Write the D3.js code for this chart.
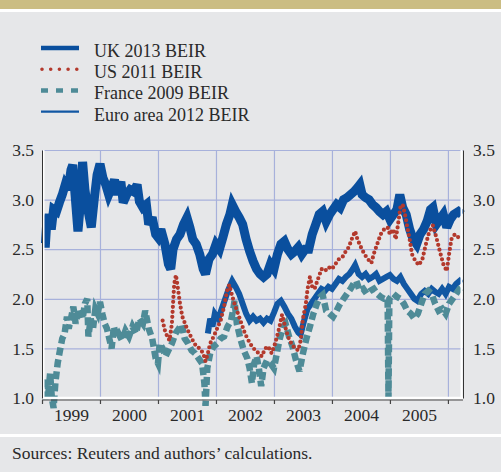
<!DOCTYPE html>
<html>
<head>
<meta charset="utf-8">
<script src="https://cdn.jsdelivr.net/npm/d3@7"></script>
<style>
  html, body { margin: 0; padding: 0; background: #e6e7e9; }
  svg { display: block; }
  text { font-family: "Liberation Serif", "Times New Roman", serif; fill: #2a2a2a; }
</style>
</head>
<body>
<svg id="chart" width="501" height="472"></svg>
<script>
// ---------------- DATA ----------------
const seriesNames = ["UK 2013 BEIR", "US 2011 BEIR", "France 2009 BEIR", "Euro area 2012 BEIR"];
const yTickValues = [1.0, 1.5, 2.0, 2.5, 3.0, 3.5];
const yearBoundaries = [1999, 2000, 2001, 2002, 2003, 2004, 2005, 2006];
const yearLabels = ["1999", "2000", "2001", "2002", "2003", "2004", "2005"];
const sourceText = "Sources: Reuters and authors\u2019 calculations.";

const ukValues = [
[1999.00,2.56],[1999.06,2.56],[1999.08,2.75],[1999.12,2.85],[1999.16,2.70],[1999.20,2.90],[1999.25,2.88],
[1999.30,2.97],[1999.35,3.05],[1999.40,3.15],[1999.45,3.10],[1999.50,3.30],[1999.53,3.35],[1999.57,3.05],
[1999.62,2.68],[1999.66,2.95],[1999.70,3.38],[1999.74,3.10],[1999.79,2.90],[1999.85,2.72],[1999.90,3.00],
[1999.95,3.25],[2000.00,3.36],[2000.05,3.22],[2000.10,3.15],[2000.15,3.05],[2000.20,3.12],[2000.25,3.20],
[2000.30,3.05],[2000.36,3.18],[2000.40,2.97],[2000.46,3.05],[2000.52,3.10],[2000.58,3.08],[2000.64,3.15],
[2000.68,2.98],[2000.74,2.92],[2000.80,2.95],[2000.84,2.75],[2000.90,2.82],[2000.96,2.65],[2001.00,2.62],
[2001.05,2.70],[2001.12,2.55],[2001.18,2.35],[2001.22,2.30],[2001.26,2.50],[2001.32,2.60],[2001.38,2.65],
[2001.44,2.75],[2001.50,2.82],[2001.55,2.72],[2001.60,2.60],[2001.66,2.55],[2001.72,2.45],[2001.78,2.30],
[2001.82,2.25],[2001.88,2.40],[2001.94,2.45],[2002.00,2.55],[2002.06,2.50],[2002.12,2.62],[2002.18,2.75],
[2002.24,2.85],[2002.28,2.95],[2002.34,2.88],[2002.40,2.82],[2002.46,2.75],[2002.52,2.60],[2002.58,2.48],
[2002.64,2.38],[2002.70,2.30],[2002.76,2.25],[2002.82,2.22],[2002.88,2.25],[2002.94,2.35],[2003.00,2.30],
[2003.06,2.45],[2003.12,2.55],[2003.18,2.58],[2003.24,2.50],[2003.30,2.45],[2003.36,2.48],[2003.42,2.52],
[2003.48,2.45],[2003.54,2.50],[2003.60,2.50],[2003.66,2.65],[2003.72,2.75],[2003.78,2.85],[2003.84,2.88],
[2003.90,2.78],[2003.96,2.85],[2004.02,2.90],[2004.08,2.95],[2004.14,2.92],[2004.20,3.00],[2004.26,3.02],
[2004.32,3.05],[2004.38,3.08],[2004.44,3.12],[2004.48,3.15],[2004.52,3.05],[2004.58,3.02],[2004.64,3.00],
[2004.70,2.95],[2004.76,2.92],[2004.82,2.88],[2004.88,2.85],[2004.94,2.88],[2005.00,2.80],[2005.06,2.85],
[2005.12,2.90],[2005.17,3.05],[2005.22,2.92],[2005.28,2.85],[2005.34,2.70],[2005.40,2.60],[2005.46,2.55],
[2005.52,2.65],[2005.58,2.70],[2005.64,2.78],[2005.70,2.90],[2005.74,2.92],[2005.80,2.75],[2005.86,2.80],
[2005.92,2.85],[2005.98,2.72],[2006.04,2.80],[2006.10,2.85],[2006.18,2.88],[2006.24,2.85]
];

const usValues = [
[2001.08,1.78],[2001.12,1.68],[2001.16,1.62],[2001.20,1.58],[2001.24,1.75],[2001.26,1.95],[2001.28,2.15],
[2001.31,2.24],[2001.34,2.12],[2001.38,1.95],[2001.42,1.82],[2001.46,1.76],[2001.50,1.70],[2001.55,1.64],
[2001.60,1.58],[2001.66,1.52],[2001.72,1.50],[2001.78,1.45],[2001.82,1.37],[2001.86,1.45],[2001.90,1.55],
[2001.96,1.62],[2002.02,1.70],[2002.08,1.78],[2002.14,1.92],[2002.19,2.08],[2002.23,2.14],[2002.27,2.05],
[2002.32,1.95],[2002.38,1.85],[2002.44,1.75],[2002.50,1.65],[2002.56,1.58],[2002.62,1.52],[2002.68,1.48],
[2002.74,1.45],[2002.79,1.42],[2002.85,1.50],[2002.90,1.52],[2002.96,1.45],[2003.02,1.55],[2003.08,1.68],
[2003.14,1.84],[2003.18,1.75],[2003.24,1.62],[2003.30,1.55],[2003.36,1.50],[2003.42,1.48],[2003.46,1.58],
[2003.50,1.80],[2003.55,1.95],[2003.58,2.10],[2003.62,2.22],[2003.66,2.12],[2003.70,2.10],[2003.76,2.20],
[2003.82,2.30],[2003.88,2.28],[2003.94,2.32],[2004.00,2.30],[2004.06,2.35],[2004.12,2.40],[2004.18,2.42],
[2004.24,2.48],[2004.29,2.52],[2004.34,2.60],[2004.40,2.68],[2004.44,2.60],[2004.50,2.52],[2004.56,2.45],
[2004.62,2.40],[2004.68,2.36],[2004.72,2.45],[2004.78,2.55],[2004.84,2.65],[2004.90,2.70],[2004.96,2.72],
[2005.00,2.65],[2005.06,2.70],[2005.10,2.60],[2005.14,2.75],[2005.18,2.92],[2005.22,2.95],[2005.26,2.85],
[2005.30,2.72],[2005.34,2.60],[2005.38,2.45],[2005.44,2.38],[2005.50,2.34],[2005.56,2.40],[2005.62,2.55],
[2005.68,2.68],[2005.74,2.74],[2005.80,2.62],[2005.86,2.48],[2005.92,2.35],[2005.98,2.28],[2006.02,2.45],
[2006.06,2.60],[2006.12,2.65],[2006.18,2.62],[2006.24,2.60]
];

const franceValues = [
[1999.00,1.02],[1999.06,1.02],[1999.08,1.20],[1999.11,1.05],[1999.14,1.25],[1999.17,1.00],[1999.20,0.90],
[1999.23,1.15],[1999.27,1.35],[1999.31,1.48],[1999.35,1.60],[1999.39,1.65],[1999.43,1.82],[1999.46,1.70],
[1999.50,1.80],[1999.54,1.92],[1999.58,1.75],[1999.62,1.85],[1999.66,1.90],[1999.70,1.80],[1999.74,1.95],
[1999.78,2.00],[1999.80,1.62],[1999.84,1.80],[1999.88,1.70],[1999.92,1.90],[1999.96,1.85],[2000.00,1.97],
[2000.04,1.85],[2000.08,1.75],[2000.12,1.70],[2000.16,1.60],[2000.20,1.50],[2000.24,1.72],[2000.28,1.62],
[2000.32,1.65],[2000.38,1.58],[2000.44,1.68],[2000.50,1.62],[2000.56,1.72],[2000.62,1.65],[2000.68,1.80],
[2000.74,1.75],[2000.78,1.88],[2000.84,1.70],[2000.90,1.60],[2000.96,1.40],[2001.00,1.35],[2001.03,1.55],
[2001.08,1.50],[2001.13,1.42],[2001.18,1.48],[2001.24,1.55],[2001.30,1.65],[2001.36,1.70],[2001.41,1.74],
[2001.46,1.60],[2001.52,1.55],[2001.58,1.48],[2001.64,1.45],[2001.70,1.40],[2001.76,1.35],[2001.80,1.15],
[2001.82,0.92],[2001.85,1.30],[2001.90,1.45],[2001.96,1.52],[2002.02,1.55],[2002.08,1.60],[2002.14,1.62],
[2002.20,1.72],[2002.26,1.78],[2002.30,1.90],[2002.32,1.98],[2002.36,1.75],[2002.42,1.60],[2002.48,1.48],
[2002.54,1.40],[2002.58,1.30],[2002.62,1.15],[2002.66,1.35],[2002.70,1.42],[2002.74,1.30],[2002.78,1.12],
[2002.82,1.30],[2002.88,1.38],[2002.94,1.35],[2003.00,1.30],[2003.05,1.45],[2003.10,1.60],[2003.16,1.72],
[2003.20,1.75],[2003.26,1.62],[2003.32,1.52],[2003.38,1.38],[2003.44,1.27],[2003.50,1.45],[2003.56,1.60],
[2003.62,1.72],[2003.68,1.85],[2003.74,1.95],[2003.80,2.02],[2003.84,2.04],[2003.90,1.88],[2003.96,1.85],
[2004.02,1.82],[2004.08,1.88],[2004.14,1.95],[2004.20,2.00],[2004.26,2.05],[2004.32,2.10],[2004.38,2.16],
[2004.42,2.18],[2004.48,2.08],[2004.54,2.10],[2004.60,2.05],[2004.66,2.08],[2004.72,2.10],[2004.78,2.05],
[2004.84,2.02],[2004.90,2.00],[2004.96,2.00],[2004.975,1.00],[2004.99,2.00],[2005.06,2.05],[2005.12,2.02],
[2005.18,2.00],[2005.24,1.95],[2005.30,1.88],[2005.36,1.85],[2005.42,1.80],[2005.48,1.85],[2005.54,1.95],
[2005.60,2.05],[2005.66,2.08],[2005.72,2.05],[2005.78,1.95],[2005.84,1.88],[2005.90,1.90],[2005.96,1.85],
[2006.02,1.95],[2006.08,2.00],[2006.14,2.05],[2006.20,2.10],[2006.24,2.12]
];

const euroValues = [
[2001.86,1.65],[2001.90,1.80],[2001.94,1.72],[2001.98,1.85],[2002.04,1.80],[2002.10,1.90],[2002.16,2.00],
[2002.22,2.10],[2002.28,2.18],[2002.34,2.12],[2002.40,2.05],[2002.46,1.95],[2002.52,1.85],[2002.58,1.78],
[2002.64,1.82],[2002.70,1.78],[2002.76,1.80],[2002.82,1.76],[2002.88,1.80],[2002.94,1.78],[2003.00,1.86],
[2003.06,1.95],[2003.12,1.98],[2003.18,1.92],[2003.24,1.85],[2003.30,1.80],[2003.36,1.72],[2003.42,1.66],
[2003.46,1.64],[2003.52,1.78],[2003.58,1.90],[2003.64,1.95],[2003.70,2.00],[2003.76,2.05],[2003.82,2.10],
[2003.88,2.08],[2003.94,2.12],[2004.00,2.10],[2004.06,2.15],[2004.12,2.20],[2004.18,2.18],[2004.24,2.22],
[2004.30,2.25],[2004.36,2.30],[2004.40,2.34],[2004.46,2.25],[2004.52,2.22],[2004.58,2.25],[2004.64,2.20],
[2004.70,2.22],[2004.76,2.25],[2004.82,2.18],[2004.88,2.20],[2004.94,2.22],[2005.00,2.24],[2005.06,2.20],
[2005.12,2.18],[2005.18,2.22],[2005.24,2.15],[2005.30,2.10],[2005.36,2.05],[2005.42,2.00],[2005.47,1.98],
[2005.54,2.05],[2005.60,2.08],[2005.66,2.05],[2005.72,2.10],[2005.78,2.07],[2005.84,2.05],[2005.90,2.10],
[2005.96,2.05],[2006.02,2.12],[2006.08,2.10],[2006.14,2.15],[2006.20,2.18],[2006.24,2.20]
];

// ---------------- DRAWING ----------------
const svg = d3.select("#chart");
const W = 501, H = 472;
const colors = { uk: "#0a4f9e", us: "#b3392c", fr: "#4e8b97", eu: "#1157a3" };

// page frame
svg.append("rect").attr("x",0).attr("y",0).attr("width",W).attr("height",H).attr("fill","#e6e7e9");
svg.append("rect").attr("x",0).attr("y",0).attr("width",W).attr("height",9).attr("fill","#cbbd83");
svg.append("rect").attr("x",0).attr("y",9).attr("width",W).attr("height",3).attr("fill","#ffffff");
svg.append("rect").attr("x",0).attr("y",434).attr("width",W).attr("height",3).attr("fill","#ffffff");

const plot = { left: 42, right: 463, top: 150, bottom: 398 };
const x = d3.scaleLinear().domain([1999, 2006.26]).range([plot.left, plot.right]);
const y = d3.scaleLinear().domain([1.0, 3.5]).range([plot.bottom, plot.top]);

// gridlines
const gridColor = "#a7b1db";
const yGrid = svg.append("g").attr("transform", `translate(${plot.left},0)`)
  .call(d3.axisLeft(y).tickValues(yTickValues.filter(v => v > 1.0)).tickSize(-(plot.right - plot.left)).tickFormat(""));
yGrid.select(".domain").remove();
yGrid.selectAll("line").attr("stroke", gridColor).attr("stroke-width", 1.2);

const xGrid = svg.append("g").attr("transform", `translate(0,${plot.bottom})`)
  .call(d3.axisBottom(x).tickValues(yearBoundaries.slice(1)).tickSize(-(plot.bottom - plot.top)).tickFormat(""));
xGrid.select(".domain").remove();
xGrid.selectAll("line").attr("stroke", gridColor).attr("stroke-width", 1.2);

// series
const line = d3.line().x(d => x(d[0])).y(d => y(d[1])).curve(d3.curveLinear);

svg.append("path").datum(ukValues).attr("d", line)
  .attr("fill","none").attr("stroke",colors.uk).attr("stroke-width",9).attr("stroke-linejoin","miter").attr("stroke-miterlimit",3);
svg.append("path").datum(euroValues).attr("d", line)
  .attr("fill","none").attr("stroke",colors.eu).attr("stroke-width",6).attr("stroke-linejoin","miter").attr("stroke-miterlimit",3);
svg.append("path").datum(franceValues).attr("d", line)
  .attr("fill","none").attr("stroke",colors.fr).attr("stroke-width",6.5).attr("stroke-dasharray","8,4");
svg.append("path").datum(usValues).attr("d", line)
  .attr("fill","none").attr("stroke",colors.us).attr("stroke-width",4.2)
  .attr("stroke-linecap","round").attr("stroke-dasharray","0,5");

// axes frame
svg.append("line").attr("x1",plot.left+1.5).attr("x2",plot.left+1.5).attr("y1",plot.top).attr("y2",plot.bottom)
  .attr("stroke","#ffffff").attr("stroke-width",2);
svg.append("line").attr("x1",plot.right-1.5).attr("x2",plot.right-1.5).attr("y1",plot.top).attr("y2",plot.bottom)
  .attr("stroke","#ffffff").attr("stroke-width",2);
svg.append("line").attr("x1",plot.left).attr("x2",plot.right).attr("y1",plot.bottom).attr("y2",plot.bottom)
  .attr("stroke","#ffffff").attr("stroke-width",2.5);

// left axis labels
const leftAx = svg.append("g").attr("transform", `translate(${plot.left},0)`)
  .call(d3.axisLeft(y).tickValues(yTickValues).tickSize(0).tickPadding(8).tickFormat(d3.format(".1f")));
leftAx.select(".domain").attr("stroke","#333").attr("stroke-width",1);
leftAx.selectAll("text").style("font-size","17.5px").style("font-family","Liberation Serif").attr("fill","#2a2a2a");

const rightAx = svg.append("g").attr("transform", `translate(${plot.right},0)`)
  .call(d3.axisRight(y).tickValues(yTickValues).tickSize(0).tickPadding(10).tickFormat(d3.format(".1f")));
rightAx.select(".domain").attr("stroke","#333").attr("stroke-width",1);
rightAx.selectAll("text").style("font-size","17.5px").style("font-family","Liberation Serif").attr("fill","#2a2a2a");

// bottom ticks
const bottomTicks = svg.append("g").attr("transform", `translate(0,${plot.bottom + 2})`)
  .call(d3.axisBottom(x).tickValues(yearBoundaries).tickSize(4).tickFormat(""));
bottomTicks.select(".domain").attr("d", `M${plot.left},0H${plot.right}`).attr("stroke","#444").attr("stroke-width",1.2);
bottomTicks.selectAll("line").attr("stroke","#444").attr("stroke-width",1.2);

// year labels at mid-year
const bottomLabels = svg.append("g").attr("transform", `translate(0,${plot.bottom})`)
  .call(d3.axisBottom(x).tickValues(yearLabels.map(s => +s + 0.5)).tickSize(0).tickPadding(10.5)
        .tickFormat((d, i) => yearLabels[i]));
bottomLabels.select(".domain").remove();
bottomLabels.selectAll("text").style("font-size","17.5px").style("font-family","Liberation Serif").attr("fill","#2a2a2a");

// legend
const legend = svg.append("g");
const legendRows = [
  { name: seriesNames[0], color: colors.uk, width: 4.5, dash: null, cap: "butt" },
  { name: seriesNames[1], color: colors.us, width: 3.6, dash: "0,8.7", cap: "round" },
  { name: seriesNames[2], color: colors.fr, width: 4.5, dash: "7,8", cap: "butt" },
  { name: seriesNames[3], color: colors.eu, width: 2.2, dash: null, cap: "butt" }
];
legendRows.forEach((r, i) => {
  const by = 57 + i * 21.2;
  legend.append("line").attr("x1", r.cap === "round" ? 42 : 41).attr("x2", 79)
    .attr("y1", by - 9).attr("y2", by - 9)
    .attr("stroke", r.color).attr("stroke-width", r.width)
    .attr("stroke-linecap", r.cap).attr("stroke-dasharray", r.dash);
  legend.append("text").attr("x", 94).attr("y", by).text(r.name)
    .style("font-size","18px");
});

// source
svg.append("text").attr("x", 12).attr("y", 459).text(sourceText).style("font-size","17.5px");
</script>
</body>
</html>
